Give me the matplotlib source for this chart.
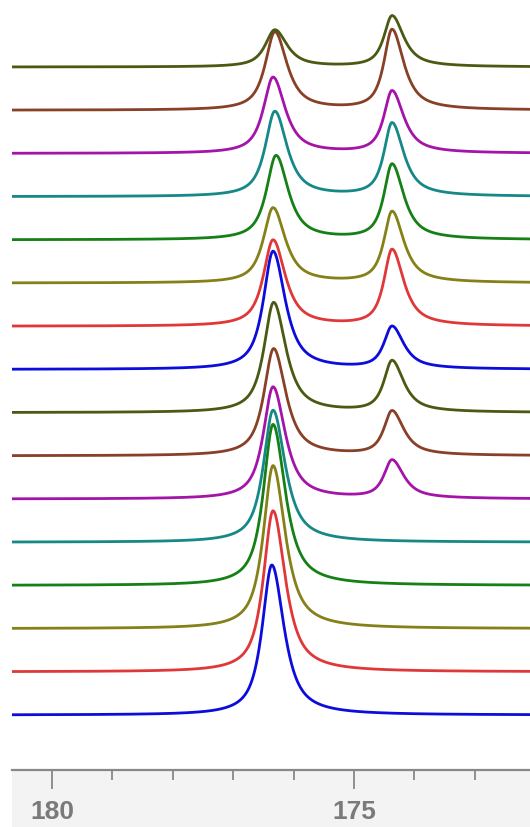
import numpy as np
import matplotlib
matplotlib.use("Agg")
import matplotlib.pyplot as plt
from matplotlib import transforms

# ---- data (bottom trace first) ----
colors = ["#0C0CDC", "#E03838", "#858018", "#158015", "#168888", "#A414A8", "#884026", "#4A5A12"] * 2
pos1 = [176.36, 176.34, 176.34, 176.34, 176.34, 176.34, 176.33, 176.33,
        176.34, 176.34, 176.34, 176.29, 176.31, 176.34, 176.31, 176.31]
amp1 = [150, 161, 163, 161, 132, 112, 107, 110, 118, 86, 75, 84, 85, 76, 78, 37]
pos2 = [174.37] * 16
amp2 = [0, 0, 0, 0, 0, 38, 44, 51, 42, 76, 71, 75, 73, 62, 80, 51]
# half widths (ppm) on the high-ppm / low-ppm side of each line
hw1 = (0.19, 0.24)
hw2 = (0.16, 0.23)
eta = 0.85                 # lorentzian fraction of the line shape
major_ticks = [180, 175]
minor_ticks = [180, 179, 178, 177, 176, 175, 174, 173]

W, H = 530, 827
XL, XR = 180.662, 172.086
step = 43.2
base0 = 55

def pv(x, x0, a, g):
    w = np.where(x > x0, g[0], g[1])
    u = ((x - x0) / w)**2
    return a * (eta / (1 + u) + (1 - eta) * np.exp(-np.log(2) * u))

fig = plt.figure(figsize=(W/100, H/100), dpi=100)
ax = fig.add_axes([12/W, 57/H, 518/W, 770/H])
ax.set_xlim(XL, XR); ax.set_ylim(0, 770); ax.axis("off")

x = np.linspace(XL, XR, 1500)
for i in range(16):
    y = base0 + step*i + pv(x, pos1[i], amp1[i], hw1) + pv(x, pos2[i], amp2[i], hw2)
    ax.plot(x, y, color=colors[i], lw=2.0, solid_joinstyle="round")

# ---- scale band ----
sc = fig.add_axes([12/W, 0, 518/W, 57/H], facecolor="#F3F3F3")
sc.set_xlim(XL, XR); sc.set_ylim(0, 1)
for s in ["left", "right", "bottom"]:
    sc.spines[s].set_visible(False)
sc.spines["top"].set_color("#888888"); sc.spines["top"].set_linewidth(1.6)
sc.xaxis.tick_top()
sc.set_xticks(major_ticks); sc.set_xticks(minor_ticks, minor=True)
sc.tick_params(axis="x", which="major", direction="in", length=13.5, width=1.3, color="#888888", labeltop=False)
sc.tick_params(axis="x", which="minor", direction="in", length=7.5, width=1.3, color="#888888")
sc.set_yticks([])
tr = transforms.blended_transform_factory(sc.transData, sc.transAxes)
for v in major_ticks:
    sc.text(v, 0.26, str(v), transform=tr, ha="center", va="center", fontsize=19,
            fontweight="bold", color="#7A7A7A", family="Liberation Sans")

fig.savefig("out.png", dpi=100)
